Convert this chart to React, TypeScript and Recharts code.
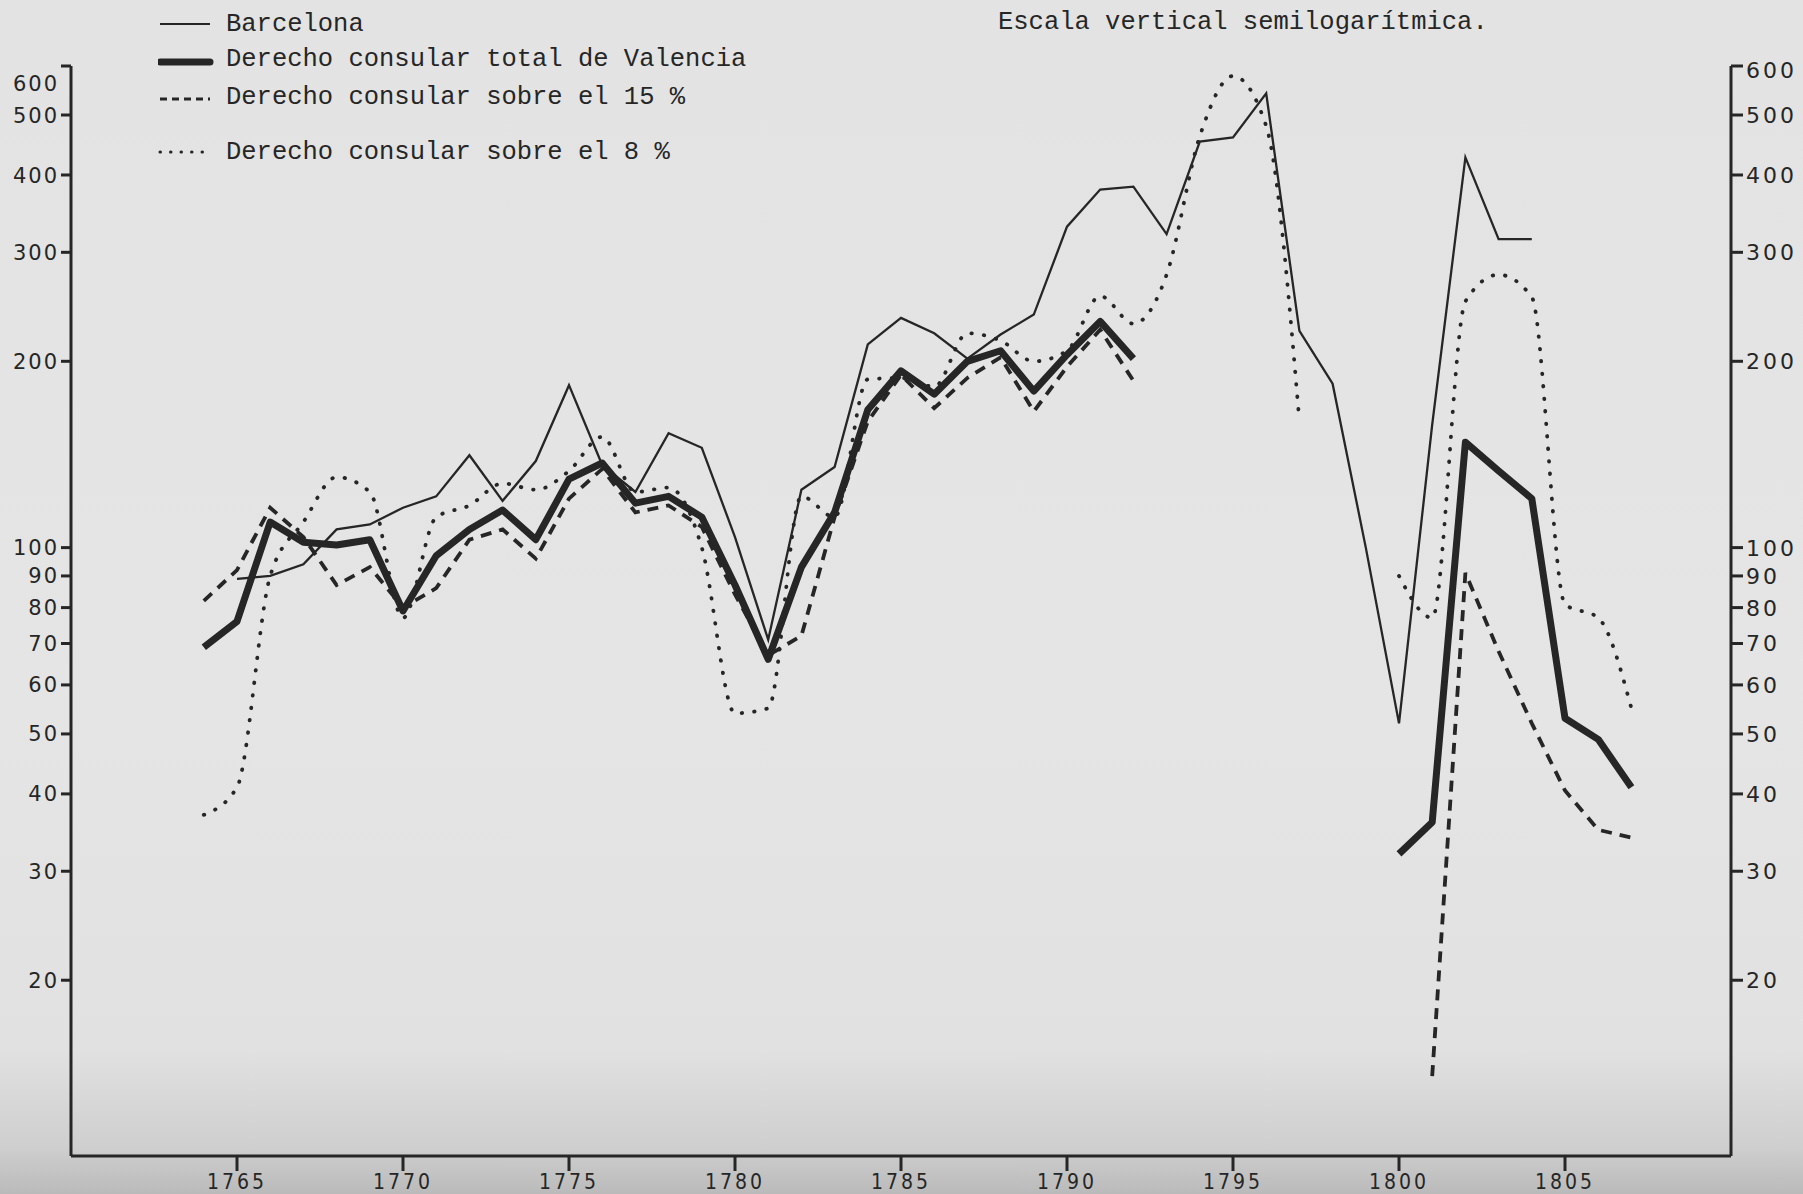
import React from "react";
import { CartesianGrid, Line, LineChart, XAxis, YAxis } from "recharts";

// Años del eje horizontal (1764–1807)
const YEARS = [
  1764, 1765, 1766, 1767, 1768, 1769, 1770, 1771, 1772, 1773, 1774,
  1775, 1776, 1777, 1778, 1779, 1780, 1781, 1782, 1783, 1784, 1785,
  1786, 1787, 1788, 1789, 1790, 1791, 1792, 1793, 1794, 1795, 1796,
  1797, 1798, 1799, 1800, 1801, 1802, 1803, 1804, 1805, 1806, 1807,
];

// Barcelona
const BARCELONA = [
  null, 89, 90, 94, 107, 109, 116, 121, 141, 119, 138,
  183, 136, 123, 153, 145, 104, 71, 124, 135, 213, 235,
  222, 202, 221, 238, 330, 379, 383, 321, 453, 460, 542,
  224, 184, 100, 52, 158, 427, 315, 315, null, null, null,
];

// Derecho consular total de Valencia
const VALENCIA_TOTAL = [
  69, 76, 110, 102, 101, 103, 79, 97, 107, 115, 103,
  129, 137, 118, 121, 112, 87, 66, 93, 114, 167, 193,
  177, 200, 208, 179, 205, 232, 202, null, null, null, null,
  null, null, null, 32, 36, 148, 133, 120, 53, 49, 41,
];

// Derecho consular sobre el 15 %
const CONSULAR_15 = [
  82, 92, 116, 104, 87, 93, 80, 86, 103, 107, 96,
  120, 134, 114, 117, 108, 84, 67, 72, 112, 160, 190,
  168, 188, 203, 166, 196, 225, 186, null, null, null, null,
  null, null, null, null, 14, 91, 68, 52, 40.5, 35, 34,
];

// Derecho consular sobre el 8 %
const CONSULAR_8 = [
  37, 41, 90, 110, 130, 123, 77, 112, 117, 127, 124,
  133, 151, 123, 125, 100, 54, 55, 121, 112, 187, 188,
  182, 222, 216, 200, 208, 255, 230, 276, 462, 578, 480,
  160, null, null, 90, 77, 250, 276, 254, 81, 77, 55,
];

const X_TICKS = [1765, 1770, 1775, 1780, 1785, 1790, 1795, 1800, 1805];
const Y_TICKS = [20, 30, 40, 50, 60, 70, 80, 90, 100, 200, 300, 400, 500, 600];

const rows = YEARS.map((year, i) => ({
  year,
  barcelona: BARCELONA[i],
  total: VALENCIA_TOTAL[i],
  c15: CONSULAR_15[i],
  c8: CONSULAR_8[i],
}));

const INK = "#262626";
const MONO = "'Liberation Mono', 'DejaVu Sans Mono', monospace";
const AXIS_FONT = "'DejaVu Sans', Verdana, sans-serif";
const YEAR_FONT = "'DejaVu Sans Condensed', 'DejaVu Sans', sans-serif";

function LeftTick({ x, y, payload }: any) {
  const dy = payload.value === 600 ? 17 : 0;
  return (
    <text
      x={x}
      y={y + dy}
      dy="0.36em"
      textAnchor="end"
      fill={INK}
      fontFamily={AXIS_FONT}
      fontSize={21}
      letterSpacing={2}
    >
      {payload.value}
    </text>
  );
}

function RightTick({ x, y, payload }: any) {
  const dy = payload.value === 600 ? 4 : 0;
  return (
    <text
      x={x}
      y={y + dy}
      dy="0.36em"
      textAnchor="start"
      fill={INK}
      fontFamily={AXIS_FONT}
      fontSize={22}
      letterSpacing={3}
    >
      {payload.value}
    </text>
  );
}

function YearTick({ x, y, payload }: any) {
  return (
    <text
      x={x}
      y={y}
      dy={12}
      textAnchor="middle"
      fill={INK}
      fontFamily={YEAR_FONT}
      fontSize={21}
      letterSpacing={3}
    >
      {payload.value}
    </text>
  );
}

const LEGEND = [
  { label: "Barcelona", top: 9, width: 2.2, dash: undefined, cap: "butt", drop: 0 },
  { label: "Derecho consular total de Valencia", top: 44, width: 7, dash: undefined, cap: "round", drop: 3 },
  { label: "Derecho consular sobre el 15 %", top: 82, width: 3, dash: "7 5", cap: "butt", drop: 2 },
  { label: "Derecho consular sobre el 8 %", top: 137, width: 3, dash: "0.5 10", cap: "round", drop: 0 },
];

function LegendBlock() {
  return (
    <div style={{ position: "absolute", left: 158, top: 0 }}>
      {LEGEND.map((item) => (
        <div
          key={item.label}
          style={{
            position: "absolute",
            top: item.top,
            left: 0,
            display: "flex",
            alignItems: "center",
            whiteSpace: "nowrap",
            height: 30,
          }}
        >
          <svg width={56} height={18} style={{ marginRight: 12 }}>
            <line
              x1={2}
              y1={9 + item.drop}
              x2={52}
              y2={9 + item.drop}
              stroke={INK}
              strokeWidth={item.width}
              strokeDasharray={item.dash}
              strokeLinecap={item.cap as any}
            />
          </svg>
          <span style={{ fontFamily: MONO, fontSize: 25.5, color: INK }}>{item.label}</span>
        </div>
      ))}
    </div>
  );
}

export default function App() {
  return (
    <div
      style={{
        position: "absolute",
        left: 0,
        top: 0,
        width: 1803,
        height: 1194,
        overflow: "hidden",
        background:
          "linear-gradient(180deg, #e3e3e3 0%, #e5e5e5 60%, #e1e1e1 88%, #cfcfcf 96%, #bababa 100%)",
      }}
    >
      <LineChart
        width={1803}
        height={1194}
        data={rows}
        margin={{ top: 66, right: 0, bottom: 0, left: 0 }}
      >
        <CartesianGrid stroke="none" />
        <XAxis
          dataKey="year"
          type="number"
          domain={[1760, 1810]}
          ticks={X_TICKS}
          height={38}
          tickSize={15}
          tickMargin={6}
          tick={<YearTick />}
          axisLine={{ stroke: INK, strokeWidth: 3 }}
          tickLine={{ stroke: INK, strokeWidth: 3 }}
        />
        <YAxis
          yAxisId="l"
          scale="log"
          domain={[10.4, 600]}
          allowDataOverflow
          ticks={Y_TICKS}
          width={71}
          tickSize={10}
          tickMargin={2}
          tick={<LeftTick />}
          axisLine={{ stroke: INK, strokeWidth: 3 }}
          tickLine={{ stroke: INK, strokeWidth: 3 }}
        />
        <YAxis
          yAxisId="r"
          orientation="right"
          scale="log"
          domain={[10.4, 600]}
          allowDataOverflow
          ticks={Y_TICKS}
          width={72}
          tickSize={12}
          tickMargin={3}
          tick={<RightTick />}
          axisLine={{ stroke: INK, strokeWidth: 3 }}
          tickLine={{ stroke: INK, strokeWidth: 3 }}
        />
        <Line
          yAxisId="l"
          type="linear"
          dataKey="barcelona"
          stroke={INK}
          strokeWidth={2.3}
          dot={false}
          activeDot={false}
          isAnimationActive={false}
        />
        <Line
          yAxisId="l"
          type="linear"
          dataKey="total"
          stroke={INK}
          strokeWidth={7}
          strokeLinejoin="round"
          dot={false}
          activeDot={false}
          isAnimationActive={false}
        />
        <Line
          yAxisId="l"
          type="linear"
          dataKey="c15"
          stroke={INK}
          strokeWidth={3.8}
          strokeDasharray="11 8"
          dot={false}
          activeDot={false}
          isAnimationActive={false}
        />
        <Line
          yAxisId="l"
          type="monotone"
          dataKey="c8"
          stroke={INK}
          strokeWidth={3.8}
          strokeDasharray="0.5 12"
          strokeLinecap="round"
          dot={false}
          activeDot={false}
          isAnimationActive={false}
        />
      </LineChart>
      <LegendBlock />
      <div
        style={{
          position: "absolute",
          left: 998,
          top: 8,
          fontFamily: MONO,
          fontSize: 25.5,
          color: INK,
          whiteSpace: "nowrap",
        }}
      >
        Escala vertical semilogarítmica.
      </div>
    </div>
  );
}
